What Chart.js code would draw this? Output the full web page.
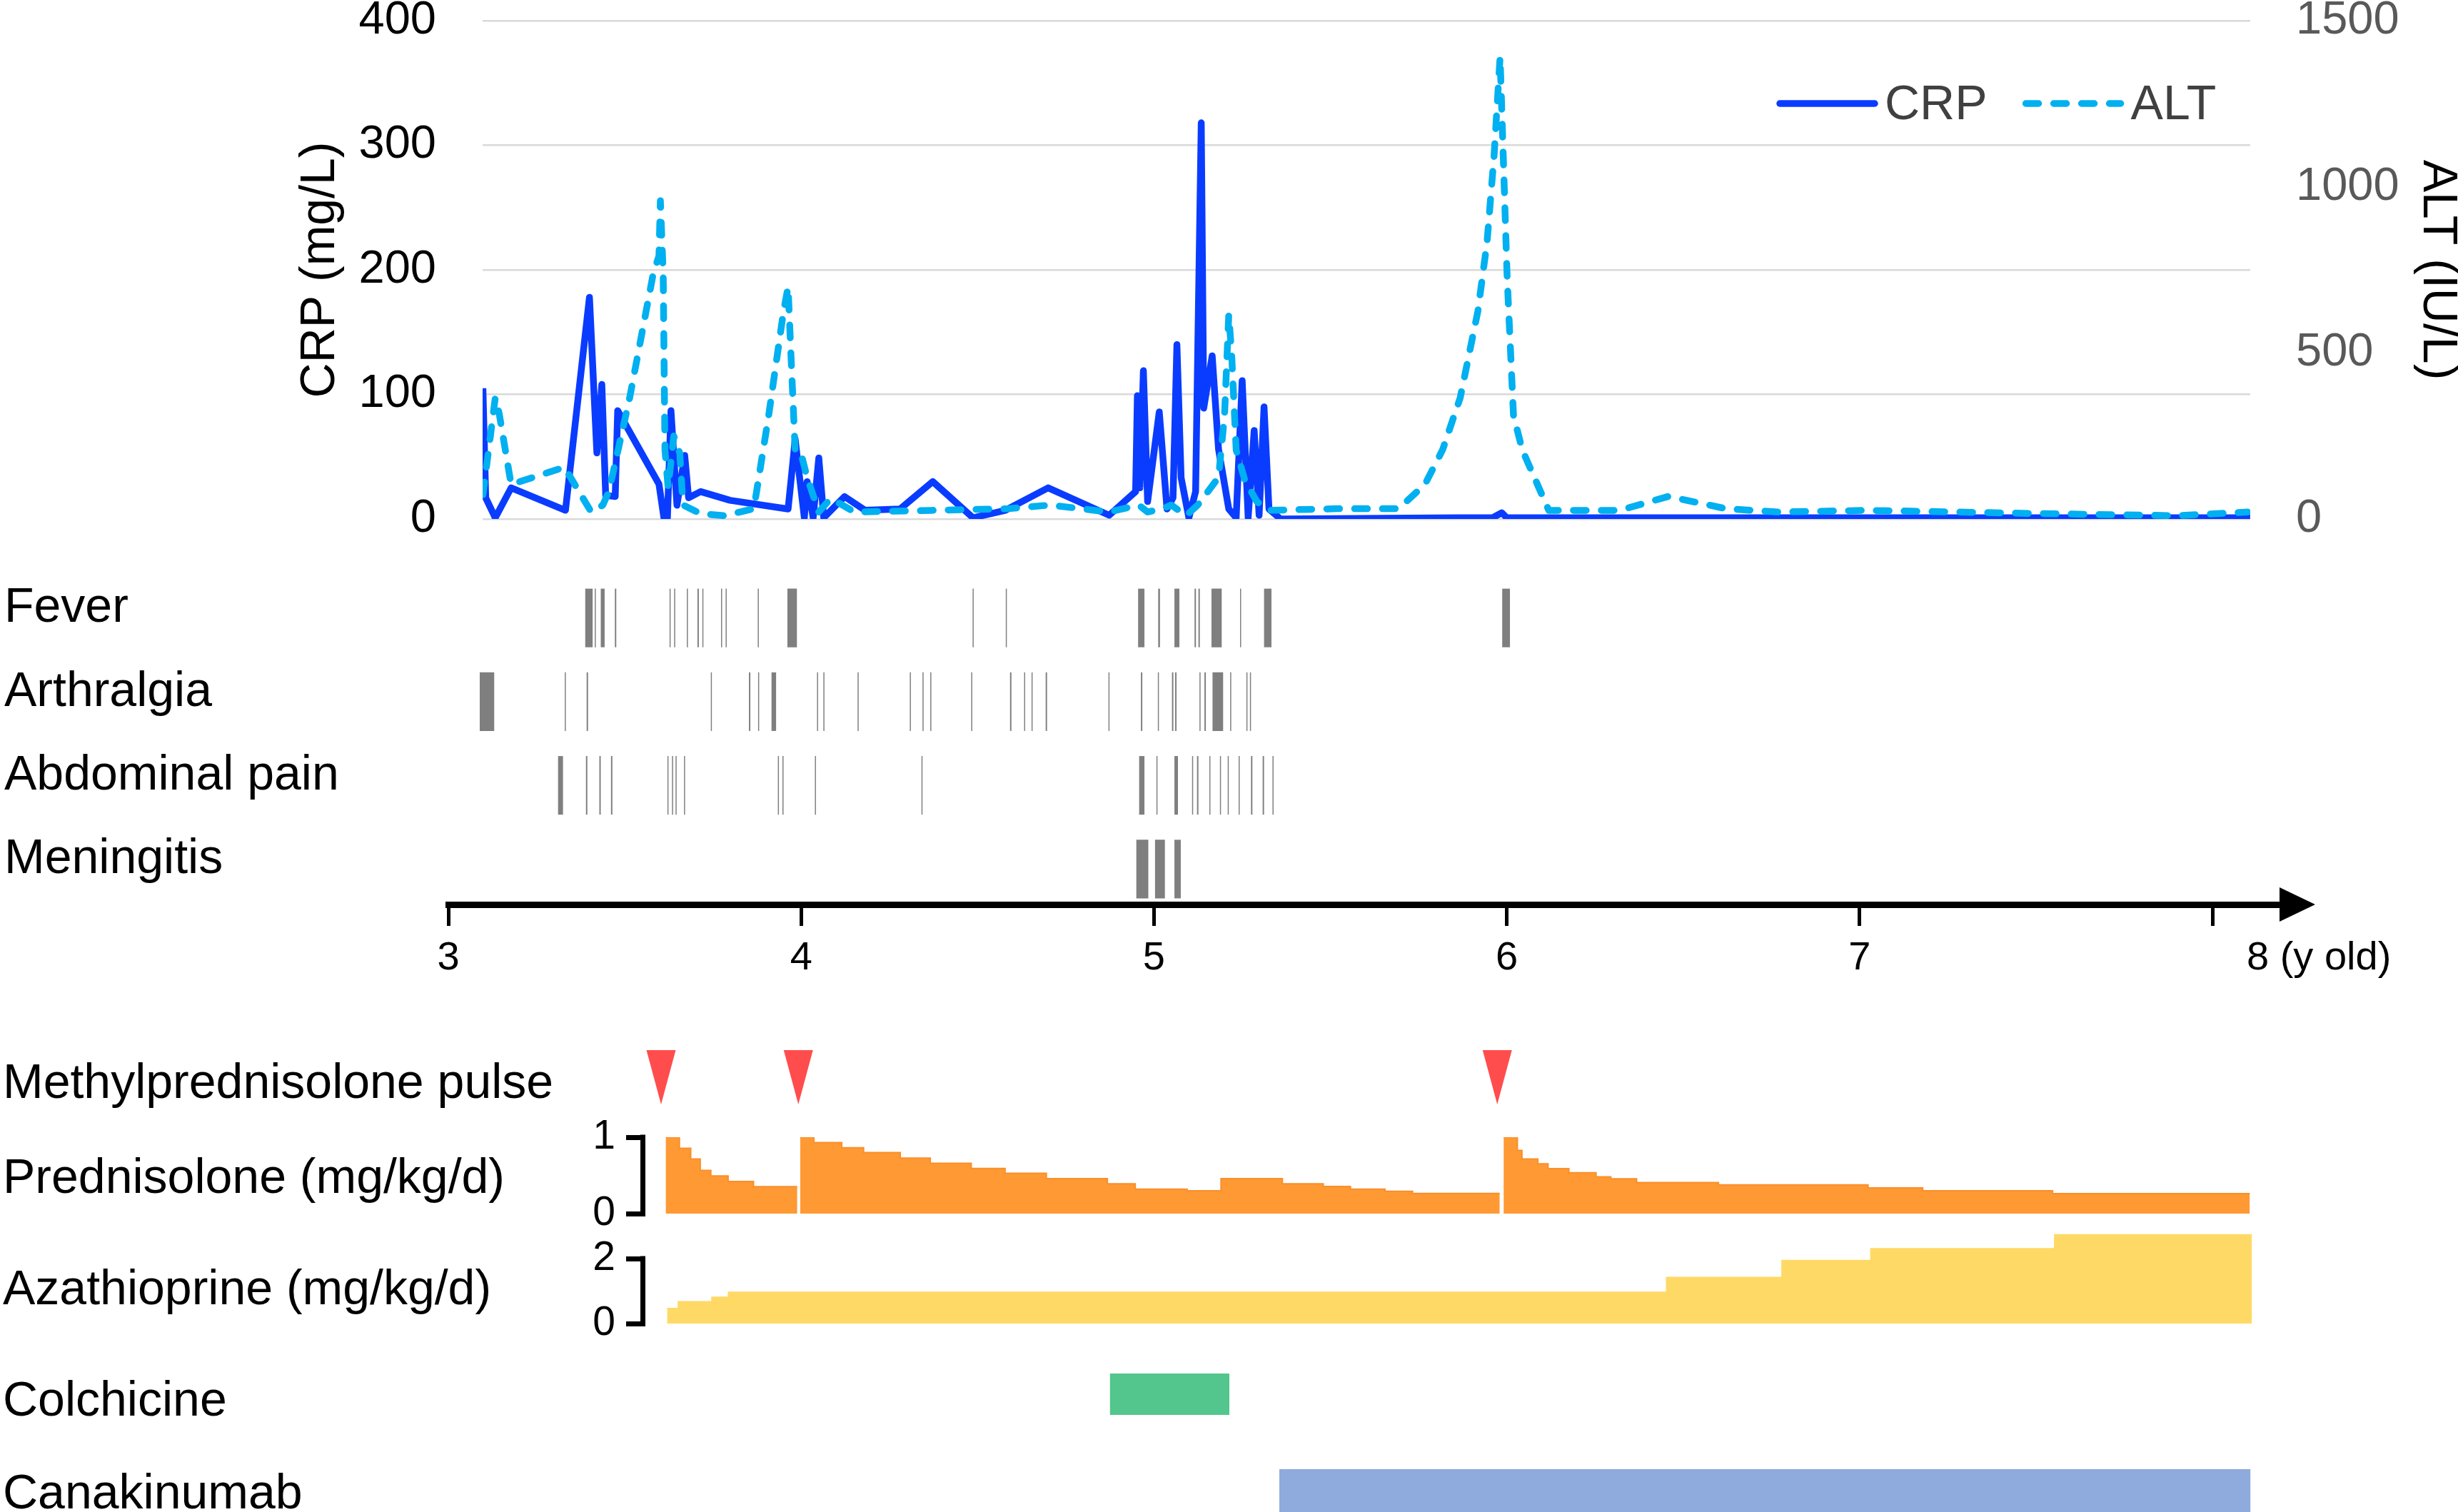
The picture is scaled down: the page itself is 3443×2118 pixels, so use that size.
<!DOCTYPE html>
<html>
<head>
<meta charset="utf-8">
<title>CRP / ALT course, symptoms and treatment</title>
<script src="https://cdn.jsdelivr.net/npm/chart.js@4.4.1/dist/chart.umd.min.js"></script>
<style>
  body { margin: 0; background: #fff; }
  #wrap { position: relative; width: 3443px; height: 2118px; overflow: hidden; font-family: 'Liberation Sans', Arial, sans-serif; }
  #wrap canvas { position: absolute; left: 0; }
  .rowLabel { position: absolute; left: 4px; font-size: 68px; line-height: 1; color: #000; white-space: nowrap; }
</style>
</head>
<body>
<div id="wrap">
  <canvas id="labChart"></canvas>
  <canvas id="symptomChart"></canvas>
  <canvas id="ageAxis"></canvas>
  <canvas id="pulseChart"></canvas>
  <canvas id="predChart"></canvas>
  <canvas id="azaChart"></canvas>
  <canvas id="colchicineChart"></canvas>
  <canvas id="canakinumabChart"></canvas>
  <div class="rowLabel" style="top:1480px">Methylprednisolone pulse</div>
  <div class="rowLabel" style="top:1613px">Prednisolone (mg/kg/d)</div>
  <div class="rowLabel" style="top:1769px">Azathioprine (mg/kg/d)</div>
  <div class="rowLabel" style="top:1925px">Colchicine</div>
  <div class="rowLabel" style="top:2055px">Canakinumab</div>
</div>
<script>
// --- data (age in years) ---
const crpYears = [3.098, 3.106, 3.133, 3.178, 3.332, 3.400, 3.421, 3.435, 3.446, 3.473, 3.480, 3.597, 3.611, 3.621, 3.631,
  3.648, 3.670, 3.681, 3.715, 3.799, 3.963, 3.972, 3.983, 4.009, 4.017, 4.034, 4.050, 4.064, 4.123, 4.181,
  4.280, 4.373, 4.487, 4.579, 4.700, 4.873, 4.948, 4.953, 4.960, 4.970, 4.982, 5.015, 5.037, 5.054, 5.065,
  5.077, 5.099, 5.118, 5.134, 5.141, 5.165, 5.183, 5.212, 5.233, 5.250, 5.267, 5.284, 5.298, 5.312, 5.326,
  5.359, 5.868, 5.960, 5.986, 6.000, 8.107];
const crp = [105, 17, 1, 25, 7, 178, 53, 108, 19, 18, 87, 28, 1, 1, 87,
  11, 51, 17, 22, 15, 8, 33, 64, 1, 30, 1, 49, 1, 18, 7,
  8, 30, 1, 7, 25, 3, 22, 99, 25, 119, 14, 86, 8, 17, 140,
  33, 1, 22, 318, 89, 131, 56, 8, 1, 111, 1, 71, 3, 90, 8,
  0, 1, 1, 5, 1, 1];

const altYears = [3.098, 3.133, 3.144, 3.178, 3.329, 3.405, 3.438, 3.455, 3.514, 3.581, 3.597, 3.601, 3.609, 3.614, 3.623,
  3.639, 3.656, 3.665, 3.715, 3.782, 3.866, 3.908, 3.950, 3.963, 3.970, 3.983, 3.997, 4.017, 4.050, 4.084,
  4.151, 4.369, 4.587, 4.705, 4.873, 4.957, 4.982, 5.024, 5.049, 5.091, 5.124, 5.183, 5.200, 5.212, 5.220,
  5.233, 5.258, 5.292, 5.326, 5.517, 5.693, 5.768, 5.818, 5.868, 5.918, 5.944, 5.964, 5.981, 5.989, 6.001,
  6.019, 6.044, 6.119, 6.320, 6.458, 6.621, 6.771, 7.022, 7.524, 7.900, 8.100];
const alt = [73, 365, 318, 104, 156, 21, 42, 83, 365, 740, 792, 958, 740, 208, 94,
  250, 198, 42, 16, 10, 31, 312, 625, 698, 521, 208, 208, 125, 21, 62,
  21, 26, 31, 42, 21, 42, 21, 31, 42, 10, 42, 125, 312, 615, 500,
  208, 115, 52, 26, 31, 31, 104, 208, 365, 625, 833, 1094, 1391, 1125, 729,
  312, 208, 26, 26, 68, 31, 21, 26, 16, 10, 21];

const symptomRows = ['Fever', 'Arthralgia', 'Abdominal pain', 'Meningitis'];
const fever = [[3.388, 3.409], [3.415, 3.418], [3.432, 3.443], [3.472, 3.476], [3.627, 3.630], [3.640, 3.643],
  [3.676, 3.679], [3.706, 3.710], [3.720, 3.723], [3.773, 3.776], [3.786, 3.789], [3.877, 3.880], [3.961, 3.988],
  [4.486, 4.489], [4.580, 4.583], [4.955, 4.973], [5.012, 5.017], [5.058, 5.072], [5.115, 5.119], [5.126, 5.130],
  [5.163, 5.192], [5.244, 5.247], [5.312, 5.333], [5.987, 6.009]];
const arthralgia = [[3.089, 3.130], [3.330, 3.333], [3.392, 3.396], [3.744, 3.747], [3.852, 3.856], [3.878, 3.881],
  [3.916, 3.929], [4.045, 4.048], [4.063, 4.066], [4.160, 4.163], [4.308, 4.311], [4.344, 4.347], [4.366, 4.369],
  [4.482, 4.485], [4.592, 4.596], [4.632, 4.635], [4.653, 4.656], [4.693, 4.697], [4.871, 4.874], [4.963, 4.967],
  [5.011, 5.014], [5.051, 5.055], [5.060, 5.064], [5.129, 5.132], [5.143, 5.147], [5.166, 5.196], [5.216, 5.219],
  [5.262, 5.265], [5.272, 5.275]];
const abdominalPain = [[3.311, 3.325], [3.390, 3.394], [3.428, 3.432], [3.461, 3.465], [3.621, 3.624], [3.634, 3.637],
  [3.644, 3.647], [3.668, 3.671], [3.934, 3.937], [3.947, 3.950], [4.039, 4.042], [4.341, 4.344], [4.958, 4.973],
  [5.007, 5.010], [5.058, 5.068], [5.108, 5.111], [5.122, 5.126], [5.157, 5.160], [5.187, 5.190], [5.209, 5.212],
  [5.240, 5.243], [5.275, 5.279], [5.308, 5.312], [5.336, 5.339]];
const meningitis = [[4.950, 4.984], [5.003, 5.031], [5.058, 5.076]];

const ageTicks = [3, 4, 5, 6, 7, 8];

const pulseYears = [3.603, 3.992, 5.973];

// prednisolone steps (value holds from each date to the next, null = course break)
const predYears = [3.616, 3.655, 3.687, 3.714, 3.744, 3.793, 3.865, 3.989, 3.993, 3.997, 4.036, 4.115, 4.177, 4.281,
  4.366, 4.482, 4.578, 4.695, 4.868, 4.947, 5.094, 5.190, 5.364, 5.480, 5.557, 5.655, 5.733, 5.980, 5.985, 5.991,
  6.030, 6.043, 6.088, 6.117, 6.176, 6.253, 6.295, 6.368, 6.600, 7.024, 7.179, 7.547, 8.106];
const predDose = [1.0, 0.855, 0.714, 0.566, 0.494, 0.421, 0.352, 0.352, null, 1.0, 0.931, 0.862, 0.799, 0.726,
  0.660, 0.591, 0.528, 0.459, 0.390, 0.321, 0.298, 0.459, 0.390, 0.355, 0.321, 0.292, 0.264, 0.264, null, 1.0,
  0.827, 0.714, 0.651, 0.588, 0.535, 0.481, 0.456, 0.406, 0.377, 0.336, 0.299, 0.261, 0.261];

const azaYears = [3.620, 3.652, 3.747, 3.794, 6.453, 6.780, 7.032, 7.553, 8.112];
const azaDose = [0.46, 0.67, 0.81, 0.96, 1.42, 1.94, 2.30, 2.73, 2.73];

const colchicine = [4.876, 5.213];
const canakinumab = [5.356, 8.107];

// --- layout helpers ---
const FONT = "'Liberation Sans', Arial, sans-serif";
Chart.defaults.font.family = FONT;
Chart.defaults.animation = false;
Chart.defaults.events = [];
Chart.defaults.plugins.legend.display = false;
Chart.defaults.plugins.tooltip.enabled = false;

// every chart shares one horizontal age scale
const AGE3_PX = 628, PX_PER_YEAR = 494.2;
const yearAt = px => 3 + (px - AGE3_PX) / PX_PER_YEAR;
const AXIS_END = 3195;

function place(id, top, height) {
  const c = document.getElementById(id);
  c.width = 3443;
  c.height = height;
  c.style.top = top + 'px';
  return c;
}

// force axis box size, drop the label overhang padding
function fixWidth(w) {
  return s => { s.width = w; s.paddingTop = 0; s.paddingBottom = 0; };
}

const lineLegend = {
  id: 'lineLegend',
  afterDraw(chart, args, opts) {
    const ctx = chart.ctx;
    ctx.save();
    ctx.font = opts.size + 'px ' + FONT;
    ctx.textBaseline = 'middle';
    let x = opts.x;
    chart.data.datasets.forEach(ds => {
      ctx.strokeStyle = ds.borderColor;
      ctx.lineWidth = ds.borderWidth;
      ctx.lineCap = 'round';
      ctx.setLineDash(ds.borderDash || []);
      ctx.beginPath();
      ctx.moveTo(x, opts.y);
      ctx.lineTo(x + opts.sample, opts.y);
      ctx.stroke();
      x += opts.sample + opts.gap;
      ctx.fillStyle = opts.color;
      ctx.fillText(ds.label, x, opts.y + 3);
      x += ctx.measureText(ds.label).width + opts.spacing;
    });
    ctx.restore();
  }
};

const axisArrow = {
  id: 'axisArrow',
  afterDraw(chart) {
    const {ctx, chartArea, scales: {x}} = chart;
    const y = chartArea.bottom;
    ctx.save();
    ctx.fillStyle = '#000';
    ctx.beginPath();
    ctx.moveTo(chartArea.right - 2, y - 24);
    ctx.lineTo(chartArea.right + 48, y);
    ctx.lineTo(chartArea.right - 2, y + 24);
    ctx.closePath();
    ctx.fill();
    ctx.font = '56px ' + FONT;
    ctx.textAlign = 'left';
    ctx.textBaseline = 'top';
    ctx.fillText('8 (y old)', x.getPixelForValue(8) + 48, y + 48);
    ctx.restore();
  }
};

const bracket = {
  id: 'bracket',
  afterDraw(chart) {
    const s = chart.scales.y;
    const top = s.getPixelForValue(s.ticks[s.ticks.length - 1].value);
    const bottom = s.getPixelForValue(s.ticks[0].value);
    chart.ctx.save();
    chart.ctx.fillStyle = '#000';
    chart.ctx.fillRect(s.right - 7, top - 3.5, 7, bottom - top + 7);
    chart.ctx.restore();
  }
};

// narrow downward wedge on every point of the pulse dataset
const pulseWedge = {
  id: 'pulseWedge',
  afterDatasetsDraw(chart, args, opts) {
    const ctx = chart.ctx;
    ctx.save();
    ctx.fillStyle = opts.color;
    chart.getDatasetMeta(0).data.forEach(pt => {
      ctx.beginPath();
      ctx.moveTo(pt.x - opts.w / 2, pt.y - opts.h / 2);
      ctx.lineTo(pt.x + opts.w / 2, pt.y - opts.h / 2);
      ctx.lineTo(pt.x, pt.y + opts.h / 2);
      ctx.closePath();
      ctx.fill();
    });
    ctx.restore();
  }
};

// --- CRP / ALT ---
new Chart(place('labChart', 0, 790), {
  type: 'line',
  data: {
    datasets: [
      {
        label: 'CRP',
        data: crpYears.map((x, i) => ({ x, y: crp[i] })),
        yAxisID: 'y',
        borderColor: '#0a3cff',
        borderWidth: 9.5,
        borderJoinStyle: 'round',
        pointRadius: 0,
        order: 1
      },
      {
        label: 'ALT',
        data: altYears.map((x, i) => ({ x, y: alt[i] })),
        yAxisID: 'y2',
        borderColor: '#00b0f0',
        borderWidth: 9.5,
        borderDash: [18, 21],
        borderCapStyle: 'round',
        borderJoinStyle: 'round',
        pointRadius: 0,
        order: 0
      }
    ]
  },
  options: {
    responsive: false,
    layout: { padding: { top: 29, bottom: 63, left: 0, right: 0 } },
    scales: {
      x: { type: 'linear', display: false, min: yearAt(676), max: yearAt(3152) },
      y: {
        min: 0, max: 400,
        ticks: { stepSize: 100, padding: 65, color: '#000', font: { size: 65 } },
        grid: { color: '#d9d9d9', lineWidth: 2.5, drawTicks: false },
        border: { display: false },
        title: { display: true, text: 'CRP (mg/L)', color: '#000', font: { size: 68, lineHeight: 1 }, padding: { top: 415, bottom: 0 } },
        afterFit: fixWidth(676)
      },
      y2: {
        position: 'right',
        min: 0, max: 1500,
        ticks: { stepSize: 500, padding: 64, color: '#595959', font: { size: 65 }, callback: v => String(v) },
        grid: { drawOnChartArea: false, drawTicks: false },
        border: { display: false },
        title: { display: true, text: 'ALT (IU/L)', color: '#000', font: { size: 68, lineHeight: 0.85 }, padding: 0 },
        afterFit: fixWidth(291)
      }
    },
    plugins: {
      lineLegend: { x: 2493, y: 145, sample: 133, gap: 14, spacing: 54, size: 68, color: '#404040' }
    }
  },
  plugins: [lineLegend]
});

// --- symptoms ---
const symptomSpans = [fever, arthralgia, abdominalPain, meningitis];

new Chart(place('symptomChart', 790, 500), {
  type: 'bar',
  data: {
    labels: symptomRows,
    datasets: symptomSpans.map((spans, r) => ({
      label: symptomRows[r],
      data: spans.map(s => ({ y: symptomRows[r], x: s })),
      backgroundColor: '#7f7f7f',
      grouped: false,
      categoryPercentage: 1,
      barPercentage: 0.7
    }))
  },
  options: {
    indexAxis: 'y',
    responsive: false,
    layout: { padding: { left: 6, right: 3443 - AXIS_END, top: 17, bottom: 14 } },
    scales: {
      x: { type: 'linear', display: false, min: 3, max: yearAt(AXIS_END) },
      y: {
        type: 'category',
        ticks: { crossAlign: 'far', color: '#000', font: { size: 68 }, labelOffset: -13, padding: 0 },
        grid: { display: false },
        border: { display: false },
        afterFit: fixWidth(622)
      }
    }
  }
});

// --- age axis with arrow ---
new Chart(place('ageAxis', 1240, 180), {
  type: 'line',
  data: { datasets: [] },
  options: {
    responsive: false,
    layout: { padding: { left: AGE3_PX, right: 3443 - AXIS_END, top: 0, bottom: 0 } },
    scales: {
      x: {
        type: 'linear',
        min: 3, max: yearAt(AXIS_END),
        afterBuildTicks: s => { s.ticks = ageTicks.map(v => ({ value: v })); },
        ticks: {
          maxRotation: 0, padding: 12, color: '#000', font: { size: 56 },
          callback: v => (v === 8 ? '' : v)
        },
        grid: { drawOnChartArea: false, color: '#000', lineWidth: 5, tickLength: 30 },
        border: { display: true, color: '#000', width: 9 },
        afterFit: s => { s.height = 153; s.paddingLeft = 0; s.paddingRight = 0; }
      },
      y: { display: false, min: 0, max: 1 }
    }
  },
  plugins: [axisArrow]
});

// --- methylprednisolone pulses ---
new Chart(place('pulseChart', 1449, 120), {
  type: 'scatter',
  data: { datasets: [{ data: pulseYears.map(x => ({ x, y: 1 })), pointRadius: 0 }] },
  options: {
    responsive: false,
    layout: { padding: { left: AGE3_PX, right: 3443 - AXIS_END, top: 0, bottom: 0 } },
    scales: {
      x: { type: 'linear', display: false, min: 3, max: yearAt(AXIS_END) },
      y: { display: false, min: 0, max: 2 }
    },
    plugins: { pulseWedge: { color: '#ff4d4d', w: 41, h: 76 } }
  },
  plugins: [pulseWedge]
});

// --- prednisolone / azathioprine dose steps ---
function doseChart(id, top, height, pad, years, dose, color, edge, yMax, tickVals) {
  return new Chart(place(id, top, height), {
    type: 'line',
    data: {
      datasets: [{
        data: years.map((x, i) => ({ x, y: dose[i] })),
        stepped: true,
        fill: 'origin',
        backgroundColor: color,
        borderColor: edge,
        borderWidth: 2,
        pointRadius: 0,
        spanGaps: false
      }]
    },
    options: {
      responsive: false,
      layout: { padding: { left: 0, right: 3443 - AXIS_END, top: pad[0], bottom: pad[1] } },
      scales: {
        x: { type: 'linear', display: false, min: yearAt(904), max: yearAt(AXIS_END) },
        y: {
          min: 0, max: yMax,
          afterBuildTicks: s => { s.ticks = tickVals.map(v => ({ value: v })); },
          ticks: { padding: 15, color: '#000', font: { size: 57 } },
          grid: { drawOnChartArea: false, color: '#000', lineWidth: 7, tickLength: 27 },
          border: { display: false },
          afterFit: fixWidth(904)
        }
      }
    },
    plugins: [bracket]
  });
}

doseChart('predChart', 1560, 160, [33, 20], predYears, predDose, '#ff9933', '#f98f2c', 1, [0, 1]);
doseChart('azaChart', 1700, 175, [26.6, 21], azaYears, azaDose, '#ffd966', '#ffd966', 2.8, [0, 2]);

// --- colchicine / canakinumab periods ---
function periodChart(id, top, height, name, span, color) {
  return new Chart(place(id, top, height), {
    type: 'bar',
    data: {
      labels: [name],
      datasets: [{ data: [{ y: name, x: span }], backgroundColor: color, categoryPercentage: 1, barPercentage: 1 }]
    },
    options: {
      indexAxis: 'y',
      responsive: false,
      layout: { padding: { left: AGE3_PX, right: 3443 - AXIS_END, top: 0, bottom: 0 } },
      scales: {
        x: { type: 'linear', display: false, min: 3, max: yearAt(AXIS_END) },
        y: { type: 'category', display: false }
      }
    }
  });
}

periodChart('colchicineChart', 1924, 58, 'Colchicine', colchicine, '#52c68c');
periodChart('canakinumabChart', 2058, 60, 'Canakinumab', canakinumab, '#8faadc');
</script>
</body>
</html>
